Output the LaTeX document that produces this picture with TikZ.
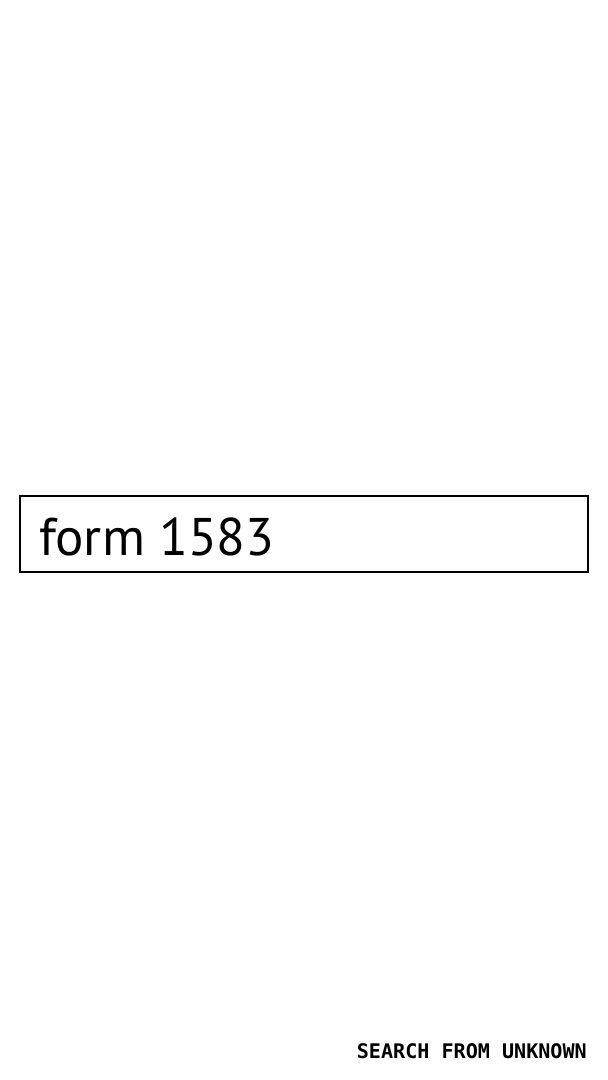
\documentclass[tikz,border=0pt]{standalone}
\usepackage{fontspec}
\setmainfont{PT Sans}
\newfontfamily\tagfont{DejaVu Sans Mono}
\begin{document}
\begin{tikzpicture}[x=1pt, y=1pt]
                \useasboundingbox (0, 0) rectangle (608, 1080);
                \draw[line width=1.3pt] (20, 508) rectangle (588, 584);
                \node (query) at (39, 524) [anchor=base west, inner sep=0pt, font=\fontsize{53}{53}\selectfont] {form 1583};
                \node (tag) at (587, 21) [anchor=base east, inner sep=0pt, font=\tagfont\bfseries\fontsize{20.1}{20.1}\selectfont] {SEARCH FROM UNKNOWN};
            \end{tikzpicture}
\end{document}
